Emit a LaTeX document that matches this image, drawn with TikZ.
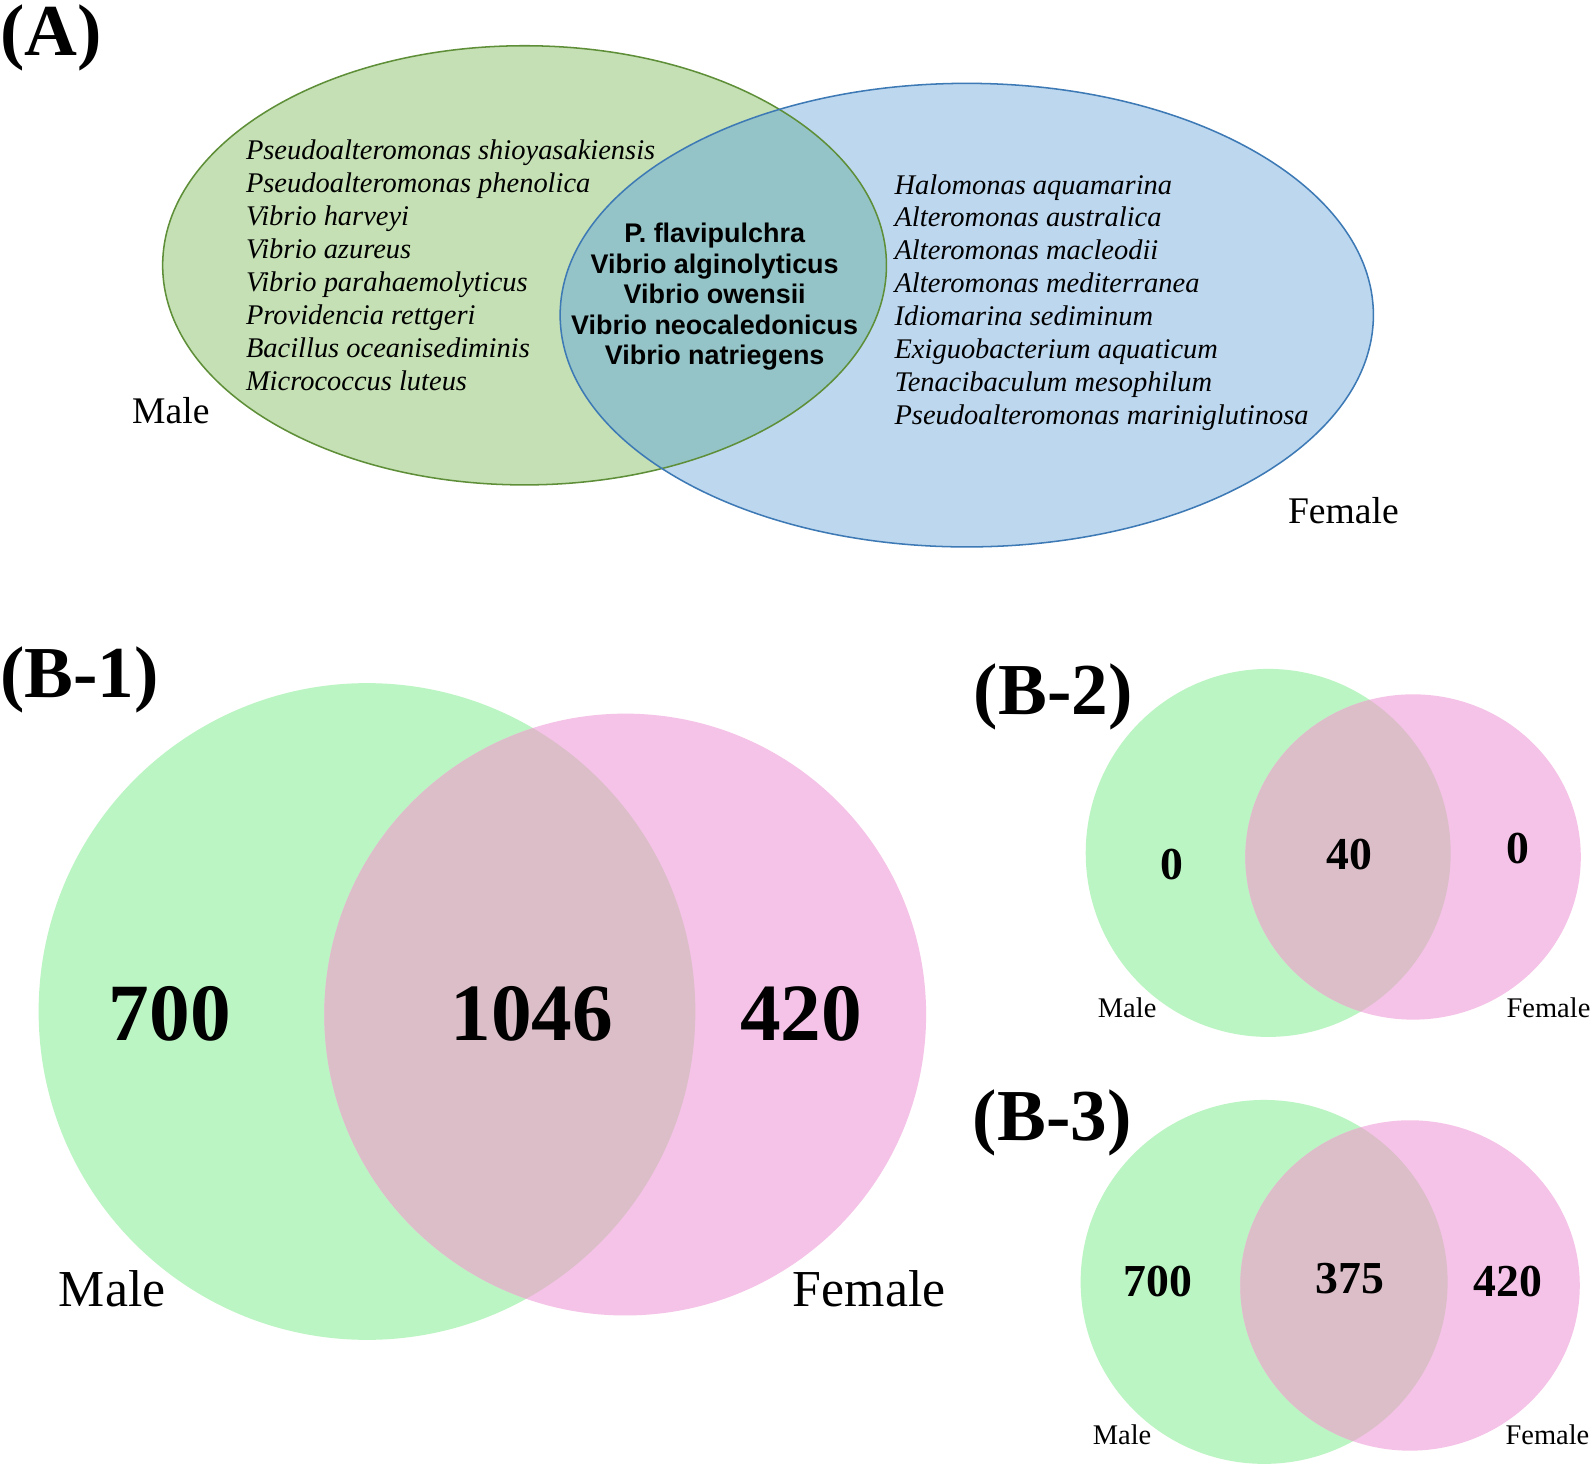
\documentclass[tikz,border=0pt]{standalone}
\usepackage{fontspec}
\setmainfont{Liberation Serif}
\newfontfamily\arialf{Liberation Sans}
\definecolor{agreen}{HTML}{C5E0B4}
\definecolor{agreenline}{HTML}{5E8F38}
\definecolor{ablue}{HTML}{BDD7EE}
\definecolor{ablueline}{HTML}{3D79B5}
\definecolor{aover}{HTML}{94C4C7}
\definecolor{bgreen}{HTML}{BBF5C3}
\definecolor{bpink}{HTML}{F5C3E7}
\definecolor{bover}{HTML}{DCBEC9}
\tikzset{
  panellabel/.style={font=\fontsize{36}{36}\selectfont\bfseries, anchor=base west},
  listA/.style={font=\fontsize{14}{16}\selectfont\itshape, anchor=base west},
  coreA/.style={font=\arialf\bfseries\fontsize{13.25}{15}\selectfont, anchor=base},
  sexA/.style={font=\fontsize{18.5}{20}\selectfont, anchor=base west},
  bignum/.style={font=\fontsize{40}{40}\selectfont\bfseries, anchor=base},
  bigsex/.style={font=\fontsize{25.5}{26}\selectfont, anchor=base west},
  smallnum/.style={font=\fontsize{22.5}{23}\selectfont\bfseries, anchor=base},
  smallsex/.style={font=\fontsize{14}{15}\selectfont, anchor=base west},
}
\begin{document}
\begin{tikzpicture}[x=0.5pt,y=-0.5pt, every node/.style={inner sep=0pt, outer sep=0pt}]
\useasboundingbox (0,0) rectangle (1568,1443);
\fill[white] (0,0) rectangle (1568,1443);

% ---------- Panel A ----------
\fill[agreen] (516,261) ellipse [x radius=178pt, y radius=108pt];
\fill[ablue] (951,310) ellipse [x radius=200pt, y radius=114pt];
\begin{scope}
  \clip (516,261) ellipse [x radius=178pt, y radius=108pt];
  \fill[aover] (951,310) ellipse [x radius=200pt, y radius=114pt];
\end{scope}
\draw[agreenline, line width=0.75pt] (516,261) ellipse [x radius=178pt, y radius=108pt];
\draw[ablueline, line width=0.75pt] (951,310) ellipse [x radius=200pt, y radius=114pt];

\node[panellabel] (labA) at (0,55) {(A)};

\foreach \t [count=\i] in {Pseudoalteromonas shioyasakiensis, Pseudoalteromonas phenolica,
  Vibrio harveyi, Vibrio azureus, Vibrio parahaemolyticus, Providencia rettgeri,
  Bacillus oceanisediminis, Micrococcus luteus}
  \node[listA] (male\i) at (242,{157+32.4*(\i-1)}) {\t};

\foreach \t [count=\i] in {Halomonas aquamarina, Alteromonas australica, Alteromonas macleodii,
  Alteromonas mediterranea, Idiomarina sediminum, Exiguobacterium aquaticum,
  Tenacibaculum mesophilum, Pseudoalteromonas mariniglutinosa}
  \node[listA] (female\i) at (880,{191+32.3*(\i-1)}) {\t};

\foreach \t [count=\i] in {P. flavipulchra, Vibrio alginolyticus, Vibrio owensii,
  Vibrio neocaledonicus, Vibrio natriegens}
  \node[coreA] (core\i) at (703,{239+30*(\i-1)}) {\t};

\node[sexA] (maleA) at (130,417) {Male};
\node[sexA] (femaleA) at (1267,515) {Female};

% ---------- Panel B-1 ----------
\fill[bgreen] (361,995) circle [radius=161.5pt];
\fill[bpink] (615,998) circle [radius=148pt];
\begin{scope}
  \clip (361,995) circle [radius=161.5pt];
  \fill[bover] (615,998) circle [radius=148pt];
\end{scope}
\node[panellabel] (labB1) at (0,686) {(B-1)};
\node[bignum] (b1m) at (167,1024) {700};
\node[bignum] (b1c) at (523,1024) {1046};
\node[bignum] (b1f) at (788,1024) {420};
\node[bigsex] (b1male) at (58,1285) {Male};
\node[bigsex] (b1female) at (780,1285) {Female};

% ---------- Panel B-2 ----------
\fill[bgreen] (1247.5,839) ellipse [x radius=89.75pt, y radius=90.5pt];
\fill[bpink] (1390,843) ellipse [x radius=82.5pt, y radius=80pt];
\begin{scope}
  \clip (1247.5,839) ellipse [x radius=89.75pt, y radius=90.5pt];
  \fill[bover] (1390,843) ellipse [x radius=82.5pt, y radius=80pt];
\end{scope}
\node[panellabel] (labB2) at (958,703) {(B-2)};
\node[smallnum] (b2m) at (1153,865) {0};
\node[smallnum] (b2c) at (1327,855) {40};
\node[smallnum] (b2f) at (1493,849) {0};
\node[smallsex] (b2male) at (1080,1001) {Male};
\node[smallsex] (b2female) at (1482,1001) {Female};

% ---------- Panel B-3 ----------
\fill[bgreen] (1243.5,1261) ellipse [x radius=90.25pt, y radius=89.5pt];
\fill[bpink] (1387,1264.5) ellipse [x radius=83.5pt, y radius=81.25pt];
\begin{scope}
  \clip (1243.5,1261) ellipse [x radius=90.25pt, y radius=89.5pt];
  \fill[bover] (1387,1264.5) ellipse [x radius=83.5pt, y radius=81.25pt];
\end{scope}
\node[panellabel] (labB3) at (957,1122) {(B-3)};
\node[smallnum] (b3m) at (1139,1275) {700};
\node[smallnum] (b3c) at (1328,1272) {375};
\node[smallnum] (b3f) at (1483,1275) {420};
\node[smallsex] (b3male) at (1075,1421) {Male};
\node[smallsex] (b3female) at (1481,1421) {Female};
\end{tikzpicture}
\end{document}
